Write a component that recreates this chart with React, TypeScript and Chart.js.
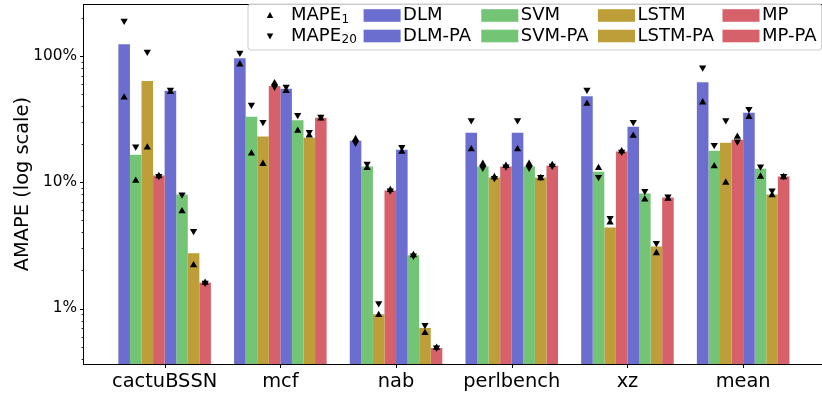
import React, { useEffect, useRef } from 'react';
import { Chart, registerables } from 'chart.js';

Chart.register(...registerables);

// ---------- data ----------
const categories = ['cactuBSSN', 'mcf', 'nab', 'perlbench', 'xz', 'mean'];
const methods = ['DLM', 'SVM', 'LSTM', 'MP', 'DLM-PA', 'SVM-PA', 'LSTM-PA', 'MP-PA'];

// AMAPE (%) bars
const amapeDLM = [124, 96, 21.3, 24.7, 48, 62];
const amapeSVM = [16.5, 33, 13.3, 13.3, 12.1, 17.8];
const amapeLSTM = [63.5, 23, 0.9, 10.9, 4.39, 20.6];
const amapeMP = [11.3, 58, 8.6, 13.3, 17.5, 21.7];
const amapeDLMPA = [53, 55, 18.1, 24.7, 27.5, 35.5];
const amapeSVMPA = [8.0, 31, 2.64, 13.3, 8.15, 12.8];
const amapeLSTMPA = [2.74, 22.5, 0.7, 10.9, 3.1, 8.0];
const amapeMPPA = [1.61, 32.4, 0.486, 13.5, 7.57, 11.1];

// MAPE_1 (%) up-triangles
const mape1DLM = [47, 86, 22, 18.3, 42, 43];
const mape1SVM = [10.3, 16.9, 13, 14, 13, 13.4];
const mape1LSTM = [18.9, 14, 0.89, 11, 4.8, 9.95];
const mape1MP = [11.2, 61, 8.7, 13.5, 17.6, 23];
const mape1DLMPA = [52, 53, 17.5, 18.3, 23.4, 33];
const mape1SVMPA = [5.9, 25.6, 2.65, 14, 7.3, 11.1];
const mape1LSTMPA = [2.2, 23.5, 0.64, 10.8, 2.75, 7.9];
const mape1MPPA = [1.6, 32, 0.49, 13.7, 7.4, 11.0];

// MAPE_20 (%) down-triangles
const mape20DLM = [190, 106, 20.5, 31, 54, 81];
const mape20SVM = [19.2, 41, 14, 13, 11, 19.7];
const mape20LSTM = [108, 30, 1.1, 10.8, 5.2, 31];
const mape20MP = [11.2, 57, 8.6, 13.3, 17.4, 21];
const mape20DLMPA = [54, 57, 19, 31, 30, 38];
const mape20SVMPA = [8.0, 34, 2.62, 13, 8.5, 13.3];
const mape20LSTMPA = [4.1, 25, 0.74, 11, 3.3, 8.6];
const mape20MPPA = [1.6, 33, 0.49, 13.5, 7.7, 11.2];

const yMajorTicks = [1, 10, 100];
const yMinorTicks = [0.4, 0.5, 0.6, 0.7, 0.8, 0.9, 2, 3, 4, 5, 6, 7, 8, 9, 20, 30, 40, 50, 60, 70, 80, 90, 200];

const colorDLM = '#6b6ecf';
const colorSVM = '#74c476';
const colorLSTM = '#bd9e39';
const colorMP = '#d6616b';

// ---------- assembly ----------
const amape = [amapeDLM, amapeSVM, amapeLSTM, amapeMP, amapeDLMPA, amapeSVMPA, amapeLSTMPA, amapeMPPA];
const mape1 = [mape1DLM, mape1SVM, mape1LSTM, mape1MP, mape1DLMPA, mape1SVMPA, mape1LSTMPA, mape1MPPA];
const mape20 = [mape20DLM, mape20SVM, mape20LSTM, mape20MP, mape20DLMPA, mape20SVMPA, mape20LSTMPA, mape20MPPA];
const colors = [colorDLM, colorSVM, colorLSTM, colorMP, colorDLM, colorSVM, colorLSTM, colorMP];

const FONT = "'DejaVu Sans', sans-serif";
const CAT_PCT = 0.8;
const barUnit = CAT_PCT / methods.length;
const offsetOf = (j: number) => (j - (methods.length - 1) / 2) * barUnit;

const framePlugin = {
  id: 'frameAndLegend',
  afterDraw(chart: any) {
    const { ctx, chartArea } = chart;
    const xs = chart.scales.x;
    const ys = chart.scales.y;
    ctx.save();
    // frame
    ctx.strokeStyle = '#000';
    ctx.lineWidth = 1;
    const L = Math.round(chartArea.left) - 0.5;
    const T = Math.round(chartArea.top) + 0.5;
    const R = Math.round(chartArea.right) - 0.5;
    const B = Math.round(chartArea.bottom) + 0.5;
    ctx.strokeRect(L, T, R - L, B - T);
    // y ticks
    ctx.beginPath();
    yMajorTicks.forEach((v) => {
      const y = Math.round(ys.getPixelForValue(v)) + 0.5;
      ctx.moveTo(L, y);
      ctx.lineTo(L - 3.5, y);
    });
    ctx.stroke();
    ctx.lineWidth = 0.8;
    ctx.beginPath();
    yMinorTicks.forEach((v) => {
      const y = Math.round(ys.getPixelForValue(v)) + 0.5;
      ctx.moveTo(L, y);
      ctx.lineTo(L - 2, y);
    });
    ctx.stroke();
    // x ticks
    ctx.lineWidth = 1;
    ctx.beginPath();
    categories.forEach((_, i) => {
      const x = Math.round(xs.getPixelForValue(i)) + 0.5;
      ctx.moveTo(x, B);
      ctx.lineTo(x, B + 3.5);
    });
    ctx.stroke();

    // legend
    const bx = 248, by = 4, bw = 573.7, bh = 46, r = 3;
    ctx.beginPath();
    ctx.moveTo(bx + r, by);
    ctx.lineTo(bx + bw - r, by);
    ctx.quadraticCurveTo(bx + bw, by, bx + bw, by + r);
    ctx.lineTo(bx + bw, by + bh - r);
    ctx.quadraticCurveTo(bx + bw, by + bh, bx + bw - r, by + bh);
    ctx.lineTo(bx + r, by + bh);
    ctx.quadraticCurveTo(bx, by + bh, bx, by + bh - r);
    ctx.lineTo(bx, by + r);
    ctx.quadraticCurveTo(bx, by, bx + r, by);
    ctx.closePath();
    ctx.fillStyle = 'rgba(255,255,255,0.8)';
    ctx.fill();
    ctx.strokeStyle = '#cccccc';
    ctx.lineWidth = 1;
    ctx.stroke();

    const rows = [15.5, 36];
    // marker column
    const mx = 270;
    ctx.fillStyle = '#000';
    const tri = (x: number, y: number, s: number, down: boolean) => {
      ctx.beginPath();
      const d = down ? -1 : 1;
      ctx.moveTo(x, y - d * s);
      ctx.lineTo(x - s * 0.9, y + d * s * 0.7);
      ctx.lineTo(x + s * 0.9, y + d * s * 0.7);
      ctx.closePath();
      ctx.fill();
    };
    tri(mx, rows[0], 3.6, false);
    tri(mx, rows[1], 3.6, true);
    ctx.textBaseline = 'middle';
    ctx.textAlign = 'left';
    ctx.font = `18px ${FONT}`;
    const mw = ctx.measureText('MAPE').width;
    ctx.fillText('MAPE', 291, rows[0]);
    ctx.fillText('MAPE', 291, rows[1]);
    ctx.font = `12px ${FONT}`;
    ctx.fillText('1', 291 + mw + 0.5, rows[0] + 4);
    ctx.fillText('20', 291 + mw + 0.5, rows[1] + 4);

    const patchX = [363.6, 481.3, 598, 722.5];
    ctx.font = `18px ${FONT}`;
    methods.forEach((m, j) => {
      const col = j % 4;
      const row = Math.floor(j / 4);
      const px = patchX[col];
      const cy = rows[row];
      ctx.fillStyle = colors[j];
      ctx.fillRect(px, cy - 6.3, 37, 12.6);
      ctx.fillStyle = '#000';
      ctx.fillText(m, px + 39.5, cy);
    });
    ctx.restore();
  },
};

export default function App() {
  const ref = useRef<HTMLCanvasElement>(null);
  useEffect(() => {
    const barSets = methods.map((m, j) => ({
      type: 'bar' as const,
      label: m,
      data: amape[j].map((v, i) => ({ x: i, y: v })),
      backgroundColor: colors[j],
      borderWidth: 0,
      categoryPercentage: CAT_PCT,
      barPercentage: 1,
      order: 2,
    }));
    const upSets = methods.map((m, j) => ({
      type: 'scatter' as const,
      label: m + ' MAPE1',
      data: mape1[j].map((v, i) => ({ x: i + offsetOf(j), y: v })),
      pointStyle: 'triangle',
      pointRadius: 4.2,
      pointRotation: 0,
      backgroundColor: '#000',
      borderColor: '#000',
      borderWidth: 0,
      order: 1,
    }));
    const downSets = methods.map((m, j) => ({
      type: 'scatter' as const,
      label: m + ' MAPE20',
      data: mape20[j].map((v, i) => ({ x: i + offsetOf(j), y: v })),
      pointStyle: 'triangle',
      pointRadius: 4.2,
      pointRotation: 180,
      backgroundColor: '#000',
      borderColor: '#000',
      borderWidth: 0,
      order: 1,
    }));

    const chart = new Chart(ref.current as HTMLCanvasElement, {
      type: 'bar',
      data: { datasets: [...barSets, ...upSets, ...downSets] as any },
      options: {
        animation: false,
        responsive: false,
        maintainAspectRatio: false,
        devicePixelRatio: 1,
        layout: { padding: { top: 3, right: 1, left: 0, bottom: 0 } },
        plugins: { legend: { display: false }, tooltip: { enabled: false } },
        scales: {
          x: {
            type: 'linear',
            min: -0.697,
            max: 5.697,
            offset: false,
            grid: { display: false, drawTicks: false, offset: false },
            border: { display: false },
            afterFit: (s: any) => {
              s.height = 30;
              s.paddingLeft = 0;
              s.paddingRight = 0;
            },
            afterBuildTicks: (s: any) => { s.ticks = categories.map((_, i) => ({ value: i })); },
            ticks: {
              autoSkip: false,
              maxRotation: 0,
              padding: 6,
              color: '#000',
              font: { family: FONT, size: 19.4 },
              callback: (v: any) => categories[Math.round(Number(v))] ?? '',
            },
          },
          y: {
            type: 'logarithmic',
            min: 0.3634,
            max: 257.3,
            grid: { display: false, drawTicks: false },
            border: { display: false },
            afterFit: (s: any) => {
              s.width = 84;
              s.paddingTop = 0;
              s.paddingBottom = 0;
            },
            afterBuildTicks: (s: any) => { s.ticks = yMajorTicks.map((v) => ({ value: v, major: true })); },
            ticks: {
              autoSkip: false,
              padding: 7,
              color: '#000',
              font: { family: FONT, size: 15.3 },
              callback: (v: any) => `${v}%`,
            },
            title: {
              display: true,
              text: 'AMAPE (log scale)',
              color: '#000',
              font: { family: FONT, size: 19.4 },
              padding: { top: 11.4, bottom: 0 },
            },
          },
        },
      } as any,
      plugins: [framePlugin],
    });
    return () => chart.destroy();
  }, []);

  return (
    <div style={{ position: 'fixed', left: 0, top: 0, width: 822, height: 394, overflow: 'hidden', background: '#fff' }}>
      <canvas ref={ref} width={828} height={394} style={{ display: 'block', width: 828, height: 394 }} />
    </div>
  );
}
